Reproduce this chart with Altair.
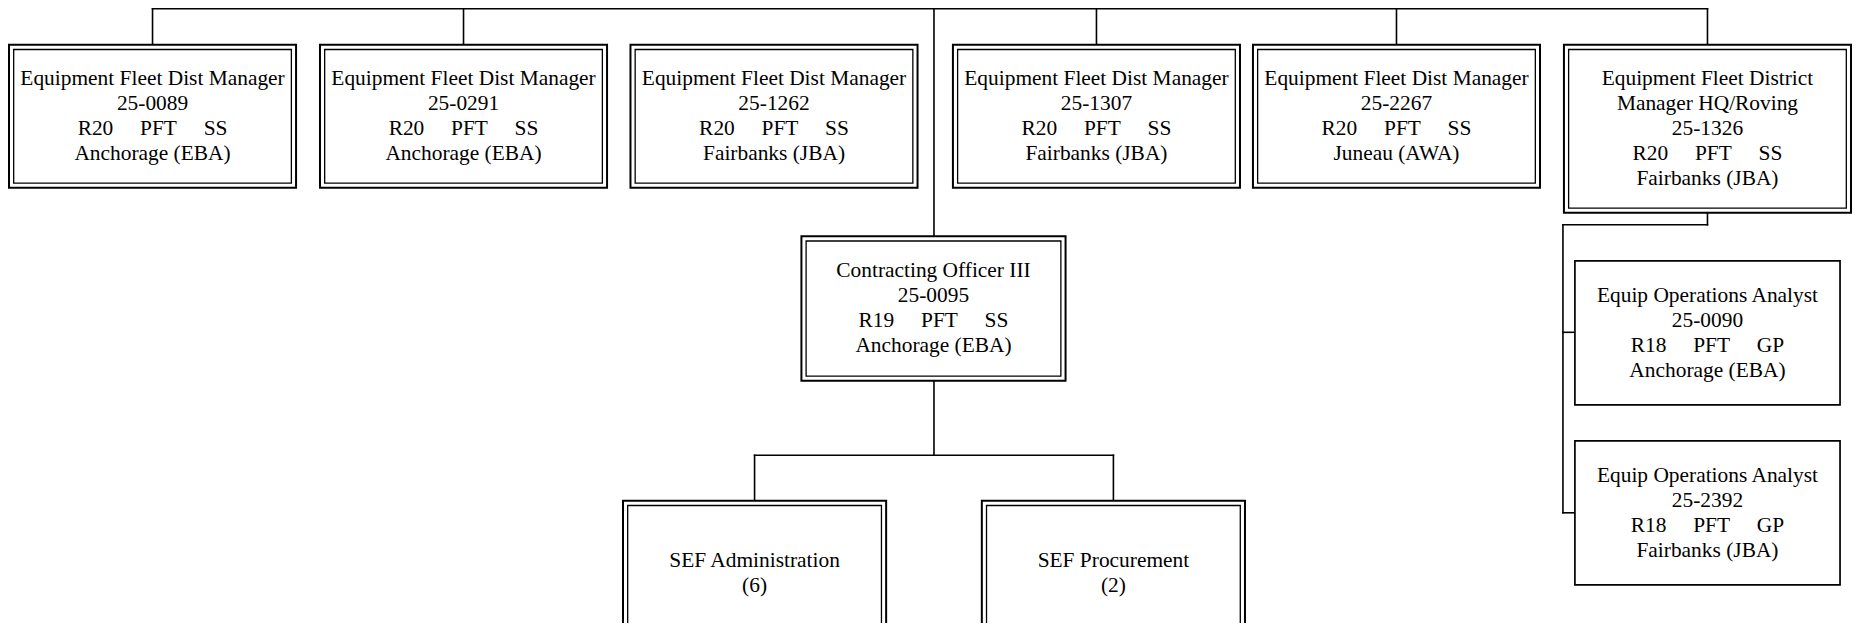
import altair as alt
import pandas as pd

# ---------------- chart content ----------------
NB = "\u00a0" * 5  # wide gaps between grade / status / unit

top_titles = ["Equipment Fleet Dist Manager"] * 5 + ["Equipment Fleet District\nManager HQ/Roving"]
top_codes = ["25-0089", "25-0291", "25-1262", "25-1307", "25-2267", "25-1326"]
top_grades = [["R20", "PFT", "SS"]] * 6
top_locations = ["Anchorage (EBA)", "Anchorage (EBA)", "Fairbanks (JBA)",
                 "Fairbanks (JBA)", "Juneau (AWA)", "Fairbanks (JBA)"]
top_linked = [True, True, False, True, True, True]

co_title = "Contracting Officer III"
co_code = "25-0095"
co_grade = ["R19", "PFT", "SS"]
co_location = "Anchorage (EBA)"

unit_names = ["SEF Administration", "SEF Procurement"]
unit_counts = [6, 2]

analyst_titles = ["Equip Operations Analyst", "Equip Operations Analyst"]
analyst_codes = ["25-0090", "25-2392"]
analyst_grades = [["R18", "PFT", "GP"], ["R18", "PFT", "GP"]]
analyst_locations = ["Anchorage (EBA)", "Fairbanks (JBA)"]

# ---------------- layout (reference pixel space) ----------------
TOP_CX = [152, 464, 775.5, 1099, 1400, 1712]
TOP_W, TOP_Y0 = 288, 41
TOP_Y1 = [184, 184, 184, 184, 184, 209]
BUS_Y = 5
TRUNK_X = 936
CO_CX, CO_W, CO_Y0, CO_Y1 = 935.5, 265, 232.5, 377
SUB_BUS_Y = 451.5
UNIT_CX, UNIT_W, UNIT_Y0, UNIT_Y1 = [756, 1116], 264, 497, 642
SIDE_X, SIDE_Y = 1567, 221
AN_X0, AN_X1 = 1579, 1845
AN_Y = [(257, 401), (437, 581)]
INSET = 4.7
LINE_H = 25


def label(title, code, grade, loc):
    return "\n".join([title, code, NB.join(grade), loc])


outer, inner, single, texts, links = [], [], [], [], []


def add_text(cx, cy, t):
    n = t.count("\n") + 1
    texts.append(dict(cx=cx, cy=cy - (n - 1) * LINE_H / 2, t=t))


for i in range(6):
    x0, x1 = TOP_CX[i] - TOP_W / 2, TOP_CX[i] + TOP_W / 2
    y0, y1 = TOP_Y0, TOP_Y1[i]
    outer.append(dict(x=x0, x2=x1, y=y0, y2=y1))
    inner.append(dict(x=x0 + INSET, x2=x1 - INSET, y=y0 + INSET, y2=y1 - INSET))
    add_text(TOP_CX[i], (y0 + y1) / 2,
             label(top_titles[i], top_codes[i], top_grades[i], top_locations[i]))
    if top_linked[i]:
        links.append(dict(x=TOP_CX[i], x2=TOP_CX[i], y=BUS_Y, y2=y0))

# top bus and trunk
links.append(dict(x=TOP_CX[0], x2=TOP_CX[-1], y=BUS_Y, y2=BUS_Y))
links.append(dict(x=TRUNK_X, x2=TRUNK_X, y=0, y2=CO_Y0))

# contracting officer
x0, x1 = CO_CX - CO_W / 2, CO_CX + CO_W / 2
outer.append(dict(x=x0, x2=x1, y=CO_Y0, y2=CO_Y1))
inner.append(dict(x=x0 + INSET, x2=x1 - INSET, y=CO_Y0 + INSET, y2=CO_Y1 - INSET))
add_text(CO_CX, (CO_Y0 + CO_Y1) / 2, label(co_title, co_code, co_grade, co_location))
links.append(dict(x=TRUNK_X, x2=TRUNK_X, y=CO_Y1, y2=SUB_BUS_Y))
links.append(dict(x=UNIT_CX[0], x2=UNIT_CX[1], y=SUB_BUS_Y, y2=SUB_BUS_Y))

# units
for i in range(2):
    x0, x1 = UNIT_CX[i] - UNIT_W / 2, UNIT_CX[i] + UNIT_W / 2
    outer.append(dict(x=x0, x2=x1, y=UNIT_Y0, y2=UNIT_Y1))
    inner.append(dict(x=x0 + INSET, x2=x1 - INSET, y=UNIT_Y0 + INSET, y2=UNIT_Y1 - INSET))
    add_text(UNIT_CX[i], 570, f"{unit_names[i]}\n({unit_counts[i]})")
    links.append(dict(x=UNIT_CX[i], x2=UNIT_CX[i], y=SUB_BUS_Y, y2=UNIT_Y0))

# side branch of HQ/Roving manager
links.append(dict(x=TOP_CX[-1], x2=TOP_CX[-1], y=TOP_Y1[-1], y2=SIDE_Y))
links.append(dict(x=SIDE_X, x2=TOP_CX[-1], y=SIDE_Y, y2=SIDE_Y))
links.append(dict(x=SIDE_X, x2=SIDE_X, y=SIDE_Y, y2=509))
for i in range(2):
    y0, y1 = AN_Y[i]
    single.append(dict(x=AN_X0, x2=AN_X1, y=y0, y2=y1))
    tick_y = [328.5, 509][i]
    links.append(dict(x=SIDE_X, x2=AN_X0, y=tick_y, y2=tick_y))
    add_text((AN_X0 + AN_X1) / 2, (y0 + y1) / 2 + 1,
             label(analyst_titles[i], analyst_codes[i], analyst_grades[i], analyst_locations[i]))

# ---------------- chart ----------------
W, H = 1844, 615
Y_OFF = 4.2
xs = alt.Scale(domain=[7, 1857], nice=False, zero=False)
ys = alt.Scale(domain=[Y_OFF, Y_OFF + H], nice=False, zero=False, reverse=True)


def enc_rect():
    return dict(
        x=alt.X("x:Q", scale=xs, axis=None),
        x2="x2:Q",
        y=alt.Y("y:Q", scale=ys, axis=None),
        y2="y2:Q",
    )


link_layer = alt.Chart(pd.DataFrame(links)).mark_rule(
    color="black", strokeWidth=1.6, clip=True, strokeCap="square"
).encode(**enc_rect())

outer_layer = alt.Chart(pd.DataFrame(outer)).mark_rect(
    fill="white", stroke="black", strokeWidth=2.0, clip=True
).encode(**enc_rect())

inner_layer = alt.Chart(pd.DataFrame(inner)).mark_rect(
    fillOpacity=0, stroke="black", strokeWidth=1.3, clip=True
).encode(**enc_rect())

single_layer = alt.Chart(pd.DataFrame(single)).mark_rect(
    fill="white", stroke="black", strokeWidth=1.7, clip=True
).encode(**enc_rect())

text_layer = alt.Chart(pd.DataFrame(texts)).mark_text(
    font="Liberation Serif", fontSize=21.4, color="black", lineBreak="\n",
    lineHeight=LINE_H, align="center", baseline="middle", clip=True
).encode(
    x=alt.X("cx:Q", scale=xs, axis=None),
    y=alt.Y("cy:Q", scale=ys, axis=None),
    text="t:N",
)

chart = alt.layer(link_layer, outer_layer, inner_layer, single_layer, text_layer).properties(
    width=W, height=H, padding=0,
    autosize=alt.AutoSizeParams(type="none"),
    background="white",
).configure_view(stroke=None)

chart.save("out.html", embed_options={"renderer": "svg", "actions": False})
